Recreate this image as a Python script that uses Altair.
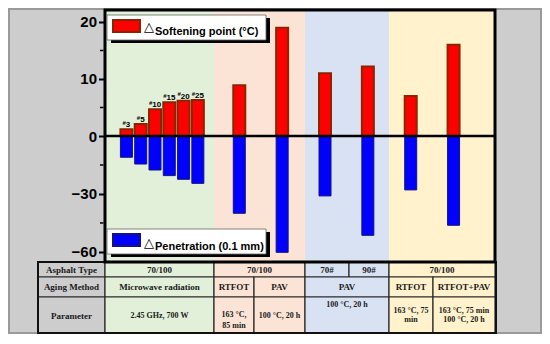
import altair as alt
import pandas as pd

# ---------------- data ----------------
bar_groups = ["Microwave"] * 6 + ["RTFOT", "PAV", "PAV 70#", "PAV 90#", "RTFOT", "RTFOT+PAV"]
microwave_labels = ["3", "5", "10", "15", "20", "25"]
softening = [1.2, 2.1, 4.7, 5.9, 6.2, 6.3, 8.9, 19.0, 11.0, 12.2, 7.0, 16.0]
penetration = [-11.0, -14.5, -17.6, -20.5, -22.4, -24.5, -40.0, -60.2, -31.0, -51.4, -27.9, -46.2]
y_ticks = [20, 10, 0, -30, -60]
y_minor = [15, 5, -15, -45]
legend_soft = "Softening point (°C)"
legend_pen = "Penetration (0.1 mm)"
row1_text = ["Asphalt Type", "70/100", "70/100", "70#", "90#", "70/100"]
row2_text = ["Aging Method", "Microwave radiation", "RTFOT", "PAV", "PAV", "RTFOT", "RTFOT+PAV"]
row3_text = ["Parameter", "2.45 GHz, 700 W", "163 °C,\n85 min", "100 °C, 20 h",
             "100 °C, 20 h", "163 °C, 75\nmin", "163 °C, 75 min\n100 °C, 20 h"]

# ---------------- layout ----------------
W, H = 390, 252
XMAX = 27.3
S = W / XMAX
GRAY = "#cdcdcd"
GREEN, PINK, BLUE, YELLOW = "#e2efd9", "#fbe4d5", "#d9e2f3", "#fff2cc"
region_edges = [0, 7.63, 14.0, 19.88, XMAX]
region_colors = [GREEN, PINK, BLUE, YELLOW]
col_edges = [-4.69, 0, 7.63, 10.43, 14.0, 17.08, 19.88, 22.96, XMAX]
bar_pos = [1.5 + i for i in range(6)] + [9.4 + 3 * i for i in range(6)]
half = 0.42

xs = alt.Scale(domain=[0, XMAX], nice=False, zero=False)
ys = alt.Scale(domain=[-65.2, 0, 22.1], range=[H, 126, 0], nice=False, zero=False)
yaxis = alt.Axis(values=y_ticks, domain=False, grid=False, tickSize=5, tickWidth=2,
                 tickColor="black", labelFont="Liberation Sans", labelFontSize=15,
                 labelFontWeight="bold", labelColor="black", labelPadding=2,
                 title=None, orient="left", offset=1.5)
ONE = pd.DataFrame({"k": [0]})


def vrect(x0, x1, y0, y1, **mk):
    return alt.Chart(ONE).mark_rect(**mk).encode(
        x=alt.value(x0), x2=alt.value(x1), y=alt.value(y0), y2=alt.value(y1))


def vtext(text, x, y, **mk):
    return alt.Chart(ONE).mark_text(**mk).encode(
        x=alt.value(x), y=alt.value(y), text=alt.value(text))


layers = []

# outer border
layers.append(vrect(-96, W + 46, -1, H + 71, fillOpacity=0, stroke="#9a9a9a", strokeWidth=2))

# region backgrounds
reg_df = pd.DataFrame({"x0": region_edges[:-1], "x1": region_edges[1:], "c": region_colors})
layers.append(alt.Chart(reg_df).mark_rect().encode(
    x=alt.X("x0:Q", scale=xs, axis=None), x2="x1",
    y=alt.value(0), y2=alt.value(H), fill=alt.Fill("c:N", scale=None)))

# table
def row_layers(idx, texts, colors, y0, y1):
    df = pd.DataFrame({
        "x0": [col_edges[a] for a, b in idx],
        "x1": [col_edges[b] for a, b in idx],
        "xm": [(col_edges[a] + col_edges[b]) / 2 for a, b in idx],
        "c": colors, "t": texts})
    rect = alt.Chart(df).mark_rect(stroke="#2a2a2a", strokeWidth=1.2).encode(
        x=alt.X("x0:Q", scale=xs, axis=None), x2="x1",
        y=alt.value(y0), y2=alt.value(y1), fill=alt.Fill("c:N", scale=None))
    return rect, df


def text_layer(df, y, size, lh=None):
    return alt.Chart(df).mark_text(font="Liberation Serif", fontWeight="bold", fontSize=size,
                                   color="#1a1a1a", align="center", baseline="middle",
                                   lineBreak="\n", lineHeight=lh if lh else size + 2).encode(
        x=alt.X("xm:Q", scale=xs, axis=None), y=alt.value(y), text="t:N")


r1_idx = [(0, 1), (1, 2), (2, 4), (4, 5), (5, 6), (6, 8)]
r2_idx = [(0, 1), (1, 2), (2, 3), (3, 4), (4, 6), (6, 7), (7, 8)]
r1_col = [GRAY, GREEN, PINK, BLUE, BLUE, YELLOW]
r2_col = [GRAY, GREEN, PINK, PINK, BLUE, YELLOW, YELLOW]

rect1, df1 = row_layers(r1_idx, row1_text, r1_col, 252, 267)
rect2, df2 = row_layers(r2_idx, row2_text, r2_col, 267, 287)
rect3, df3 = row_layers(r2_idx, row3_text, r2_col, 287, 323)
layers += [rect1, rect2, rect3]
layers.append(text_layer(df1, 259.5, 9))
layers.append(text_layer(df2, 277, 9))
layers.append(text_layer(df3.iloc[[0]], 305.5, 9))
layers.append(text_layer(df3.iloc[[1, 3]], 306, 8))
layers.append(text_layer(df3.iloc[[2]], 304.5, 8, 11))
layers.append(text_layer(df3.iloc[[4]], 295, 8))
layers.append(text_layer(df3.iloc[[5, 6]], 300.5, 8, 9.5))
layers.append(vrect(-67, W + 1, 252, 323, fillOpacity=0, stroke="#111", strokeWidth=2))

# bars
bars_df = pd.DataFrame({
    "group": bar_groups,
    "x0": [p - half for p in bar_pos], "x1": [p + half for p in bar_pos],
    "soft": softening, "pen": penetration, "zero": [0] * len(bar_pos)})
layers.append(alt.Chart(bars_df).mark_bar(fill="#0000ff", stroke="#14147a", strokeWidth=1).encode(
    x=alt.X("x0:Q", scale=xs, axis=None), x2="x1",
    y=alt.Y("pen:Q", scale=ys, axis=yaxis), y2="zero"))
layers.append(alt.Chart(bars_df).mark_bar(fill="#ff0000", stroke="#8b2500", strokeWidth=2).encode(
    x=alt.X("x0:Q", scale=xs, axis=None), x2="x1",
    y=alt.Y("soft:Q", scale=ys, axis=yaxis), y2="zero"))

# zero line
layers.append(alt.Chart(pd.DataFrame({"v": [0]})).mark_rule(color="black", strokeWidth=2.5).encode(
    y=alt.Y("v:Q", scale=ys, axis=yaxis), x=alt.value(0), x2=alt.value(W)))

# minor ticks
layers.append(alt.Chart(pd.DataFrame({"v": y_minor})).mark_rule(color="black", strokeWidth=1.5).encode(
    y=alt.Y("v:Q", scale=ys, axis=yaxis), x=alt.value(-5), x2=alt.value(-1.5)))

# frame
layers.append(vrect(0, W, 0, H, fillOpacity=0, stroke="black", strokeWidth=3))

# bar labels for microwave samples
lab_rows = []
for i, lab in enumerate(microwave_labels):
    total = 3.3 + 4.45 * len(lab)
    start = bar_pos[i] - total / 2 / S
    lab_rows.append({"xh": start, "xd": start + 3.3 / S, "d": lab, "soft": softening[i]})
lab_df = pd.DataFrame(lab_rows)
layers.append(alt.Chart(lab_df).mark_text(font="Liberation Sans", fontWeight="bold", fontSize=8,
                                          align="left", baseline="alphabetic", dy=-2, color="black").encode(
    x=alt.X("xd:Q", scale=xs, axis=None), y=alt.Y("soft:Q", scale=ys, axis=yaxis), text="d:N"))
layers.append(alt.Chart(lab_df).mark_text(font="Liberation Sans", fontWeight="bold", fontSize=6,
                                          align="left", baseline="alphabetic", dy=-4.5, color="black").encode(
    x=alt.X("xh:Q", scale=xs, axis=None), y=alt.Y("soft:Q", scale=ys, axis=yaxis), text=alt.value("#")))

# legends
for (y0, label, fill, stroke, tri_y, txt_y) in [
        (5, legend_soft, "#ff0000", "#8b2500", 21, 25),
        (219, legend_pen, "#0000ff", "#14147a", 237, 240)]:
    layers.append(vrect(6, 165, y0 + 3, y0 + 28, fill="black"))
    layers.append(vrect(2, 161, y0, y0 + 25, fill="white", stroke="#666", strokeWidth=0.8))
    layers.append(vrect(8, 35, y0 + 5, y0 + 17, fill=fill, stroke=stroke, strokeWidth=2))
    layers.append(vtext("△", 39, tri_y, font="DejaVu Sans", fontSize=13, align="left",
                        baseline="alphabetic", color="black"))
    layers.append(vtext(label, 50, txt_y, font="Liberation Sans", fontWeight="bold", fontSize=11,
                        align="left", baseline="alphabetic", color="black"))

chart = alt.layer(*layers).properties(
    width=W, height=H,
    padding={"left": 97, "top": 2, "right": 47, "bottom": 72},
    autosize=alt.AutoSizeParams(type="none"),
    background=GRAY,
).configure_view(strokeWidth=0)

chart.save("out.html", embed_options={"renderer": "svg", "actions": False})
